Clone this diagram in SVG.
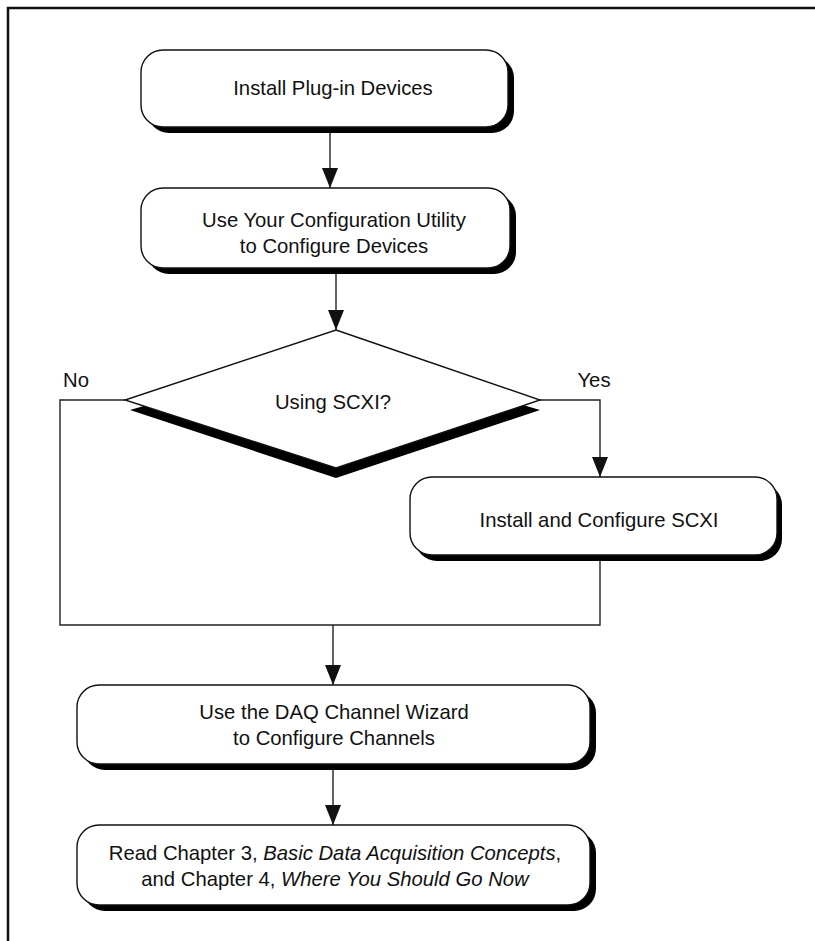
<svg xmlns="http://www.w3.org/2000/svg" width="815" height="941" viewBox="0 0 815 941">
<style>
  .box{fill:#fff;stroke:#111;stroke-width:1.4}
  .shadow{fill:#000}
  .lbl{font-family:"Liberation Sans",Arial,sans-serif;font-size:20.3px;fill:#111;text-anchor:middle}
  .it{font-style:italic}
  .wire{fill:none;stroke:#222;stroke-width:1.4}
  .frame{fill:none;stroke:#111;stroke-width:2.5}
</style>
<defs>
  <marker id="arr" markerUnits="userSpaceOnUse" viewBox="0 0 20 16" refX="20" refY="8" markerWidth="20" markerHeight="16" orient="auto">
    <path d="M0,0 L20,8 L0,16 z" fill="#111"/>
  </marker>
</defs>
<rect width="815" height="941" fill="#fff"/>
<path class="frame" d="M8,941 L8,8 L815,8"/>

<g id="connectors">
  <line class="wire" x1="330" y1="128" x2="330" y2="188" marker-end="url(#arr)"/>
  <line class="wire" x1="336" y1="269" x2="336" y2="330" marker-end="url(#arr)"/>
  <polyline class="wire" points="125,400 60,400 60,625 600,625 600,561"/>
  <polyline class="wire" points="540,400 600,400 600,477" marker-end="url(#arr)"/>
  <line class="wire" x1="333" y1="625" x2="333" y2="685" marker-end="url(#arr)"/>
  <line class="wire" x1="333" y1="770" x2="333" y2="825" marker-end="url(#arr)"/>
  <text class="lbl" x="76" y="387">No</text>
  <text class="lbl" x="594" y="387">Yes</text>
</g>

<g id="install-plugin">
  <rect class="shadow" x="147" y="56" width="367" height="77" rx="22"/>
  <rect class="box" x="141" y="50" width="367" height="77" rx="22"/>
  <text class="lbl" x="333" y="95">Install Plug-in Devices</text>
</g>

<g id="config-utility">
  <rect class="shadow" x="147" y="194" width="369" height="80" rx="22"/>
  <rect class="box" x="141" y="188" width="369" height="80" rx="22"/>
  <text class="lbl" x="334" y="227">Use Your Configuration Utility</text>
  <text class="lbl" x="334" y="253">to Configure Devices</text>
</g>

<g id="using-scxi">
  <polygon class="shadow" points="130,410 336,478 540,410 336,350"/>
  <polygon class="box" points="336,330 540,400 336,468 125,400"/>
  <text class="lbl" x="333" y="409">Using SCXI?</text>
</g>

<g id="install-scxi">
  <rect class="shadow" x="415" y="483" width="367" height="78" rx="22"/>
  <rect class="box" x="410" y="477" width="367" height="78" rx="22"/>
  <text class="lbl" x="599" y="527">Install and Configure SCXI</text>
</g>

<g id="daq-wizard">
  <rect class="shadow" x="83" y="691" width="513" height="79" rx="22"/>
  <rect class="box" x="77" y="685" width="513" height="79" rx="22"/>
  <text class="lbl" x="334" y="719">Use the DAQ Channel Wizard</text>
  <text class="lbl" x="334" y="745">to Configure Channels</text>
</g>

<g id="read-chapters">
  <rect class="shadow" x="83" y="831" width="513" height="80" rx="22"/>
  <rect class="box" x="77" y="825" width="513" height="80" rx="22"/>
  <text class="lbl" x="335" y="860">Read Chapter 3, <tspan class="it">Basic Data Acquisition Concepts</tspan>,</text>
  <text class="lbl" x="335" y="886">and Chapter 4, <tspan class="it">Where You Should Go Now</tspan></text>
</g>
</svg>
